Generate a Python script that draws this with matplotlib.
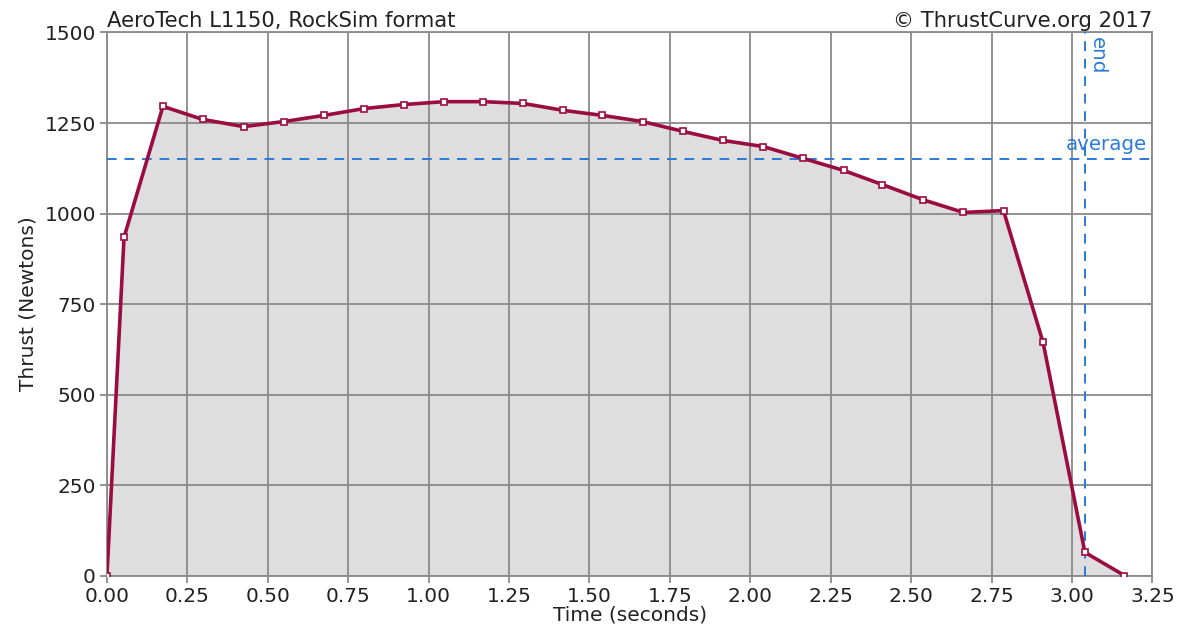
import numpy as np
import matplotlib
matplotlib.use('Agg')
import matplotlib.pyplot as plt

# thrust curve samples
time_s = [0.0, 0.053, 0.174, 0.297, 0.425, 0.55, 0.675, 0.80, 0.923, 1.048,
          1.17, 1.294, 1.418, 1.54, 1.665, 1.79, 1.914, 2.04, 2.165, 2.29,
          2.41, 2.537, 2.662, 2.787, 2.91, 3.04, 3.163]
thrust_n = [0, 934, 1296, 1260, 1240, 1254, 1271, 1290, 1301, 1309,
            1309, 1304, 1285, 1271, 1254, 1227, 1202, 1185, 1152, 1119,
            1080, 1038, 1003, 1008, 644, 64, 0]
average_n = 1150
end_s = 3.04

x_ticks = [0.0, 0.25, 0.5, 0.75, 1.0, 1.25, 1.5, 1.75, 2.0, 2.25, 2.5, 2.75, 3.0, 3.25]
y_ticks = [0, 250, 500, 750, 1000, 1250, 1500]

line_color = '#9b0d40'
blue = '#2a7ad8'
grid_color = '#8a8a8a'
text_color = '#222222'

plt.rcParams['font.family'] = ['DejaVu Sans']
plt.rcParams['font.size'] = 14

fig = plt.figure(figsize=(11.82, 6.36), dpi=100)
ax = fig.add_axes([0.0905, 0.0951, 0.8845, 0.8538])

ax.fill_between(time_s, thrust_n, 0, color='#dedede', zorder=1)
ax.grid(True, color=grid_color, linewidth=1.3, zorder=2)
ax.set_axisbelow(False)
ax.plot(time_s, thrust_n, color=line_color, linewidth=2.6, zorder=4,
        marker='s', markersize=5, markerfacecolor='white',
        markeredgecolor=line_color, markeredgewidth=1.2)

ax.axhline(average_n, color=blue, linestyle=(0, (5, 4)), linewidth=1.4, zorder=3)
ax.axvline(end_s, color=blue, linestyle=(0, (5, 4)), linewidth=1.4, zorder=3)
ax.text(3.232, average_n + 14, 'average', color=blue, ha='right', va='bottom',
        fontsize=14.3, zorder=5)
ax.text(end_s + 0.008, 1488, 'end', color=blue, rotation=-90, ha='left', va='top',
        fontsize=14.3, zorder=5)

ax.set_xlim(0, 3.25)
ax.set_ylim(0, 1500)
ax.set_xticks(x_ticks)
ax.set_xticklabels([f'{t:.2f}' for t in x_ticks])
ax.set_yticks(y_ticks)
ax.tick_params(direction='out', length=5, width=1.3, color=grid_color, pad=3,
               labelcolor=text_color, labelsize=14.5)
for s in ax.spines.values():
    s.set_color(grid_color)
    s.set_linewidth(1.3)

ax.set_xlabel('Time (seconds)', labelpad=0, color=text_color, fontsize=14.5)
ax.set_ylabel('Thrust (Newtons)', labelpad=5, color=text_color, fontsize=14.5)
ax.set_title('AeroTech L1150, RockSim format', loc='left', pad=4, color=text_color, fontsize=15.2)
ax.set_title('© ThrustCurve.org 2017', loc='right', pad=4, color=text_color, fontsize=15.2)

fig.savefig('out.png', dpi=100)
